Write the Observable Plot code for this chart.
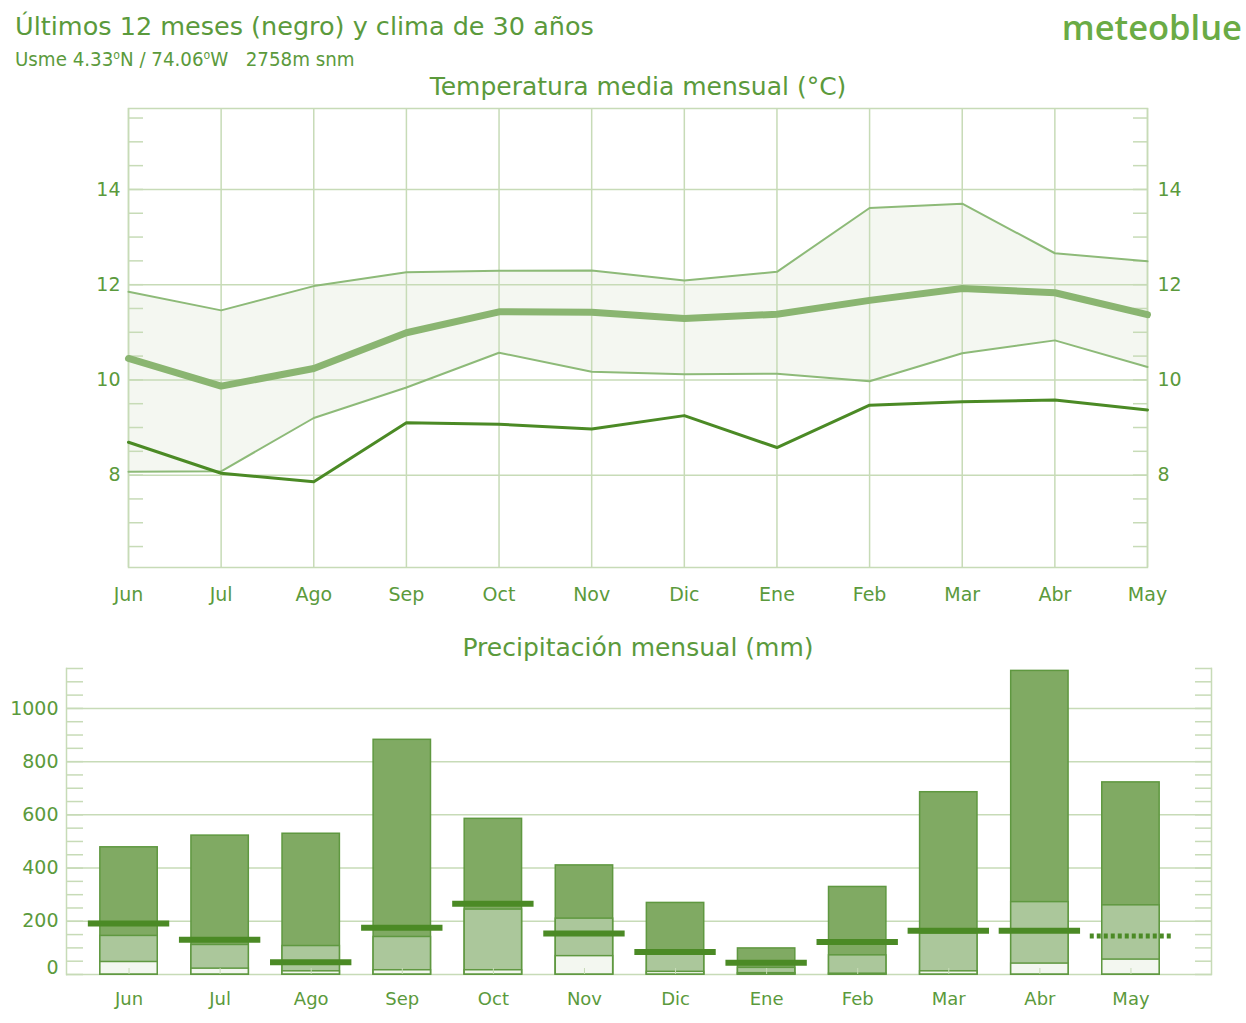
<!DOCTYPE html>
<html>
<head>
<meta charset="utf-8">
<script src="https://cdn.jsdelivr.net/npm/d3@7"></script>
<script src="https://cdn.jsdelivr.net/npm/@observablehq/plot@0.6"></script>
<style>
  html, body { margin: 0; padding: 0; background: #ffffff; }
  #root { position: relative; width: 1246px; height: 1023px; overflow: hidden; font-family: "DejaVu Sans", sans-serif; color: #5b9a3c; }
  .t { position: absolute; white-space: nowrap; line-height: 1; }
  .plotbox { position: absolute; left: 0; }
  sup { font-size: 0.6em; vertical-align: 0; position: relative; top: -0.55em; }
</style>
</head>
<body>
<div id="root">
  <div class="t" id="title" style="left:15px; font-size:25.5px;">Últimos 12 meses (negro) y clima de 30 años</div>
  <div class="t" id="sub" style="left:15px; font-size:20.3px; font-family:'DejaVu Sans Condensed','DejaVu Sans',sans-serif; font-stretch:condensed;">Usme 4.33<sup>o</sup>N / 74.06<sup>o</sup>W &nbsp;&nbsp;2758m snm</div>
  <div class="t" id="logo" style="right:4px; font-size:34.5px; font-family:'Open Sans',sans-serif; font-weight:600; color:#6aab45;">meteoblue</div>
  <div class="t" id="ttitle" style="left:0; width:1276px; text-align:center; font-size:25px;">Temperatura media mensual (°C)</div>
  <div class="t" id="ptitle" style="left:0; width:1276px; text-align:center; font-size:25px;">Precipitación mensual (mm)</div>
  <div class="plotbox" id="tplot" style="top:100px;"></div>
  <div class="plotbox" id="pplot" style="top:660px;"></div>
</div>
<script>
// ---------- data ----------
const months = ["Jun","Jul","Ago","Sep","Oct","Nov","Dic","Ene","Feb","Mar","Abr","May"];

// Temperatura media mensual (°C)
const tempMax  = [11.85, 11.46, 11.97, 12.26, 12.29, 12.30, 12.09, 12.27, 13.61, 13.70, 12.66, 12.49];
const tempMean = [10.45,  9.87, 10.24, 10.99, 11.43, 11.42, 11.29, 11.38, 11.67, 11.92, 11.83, 11.37];
const tempMin  = [ 8.07,  8.08,  9.20,  9.84, 10.57, 10.17, 10.12, 10.13,  9.97, 10.56, 10.83, 10.27];
const tempLast = [ 8.69,  8.04,  7.86,  9.10,  9.07,  8.97,  9.25,  8.58,  9.47,  9.54,  9.58,  9.37];
const tempMajor = [8, 10, 12, 14];
const tempMinor = [6.5, 7, 7.5, 8, 8.5, 9, 9.5, 10, 10.5, 11, 11.5, 12, 12.5, 13, 13.5, 14, 14.5, 15, 15.5];
const tempDomain = [6.06, 15.7];

// Precipitación mensual (mm)
const precMax  = [478, 522, 529, 882, 585, 410, 269,  98, 329, 685, 1141, 722];
const precMid  = [145, 111, 107, 141, 244, 210,  79,  25,  72, 154,  272, 260];
const precLow  = [ 47,  22,  12,  16,  16,  69,  10,   5,   3,  12,   41,  56];
const precLast = [192, 131,  46, 176, 266, 154,  85,  44, 122, 164,  164, 145];
const precMajor = [0, 200, 400, 600, 800, 1000];
const precMinor = d3.range(0, 1151, 50);
const precDomain = [0, 1150];

// ---------- colours ----------
const textC = "#5b9a3c";
const gridC = "#c7dbb7";
const bandC = "#f4f7f1";
const climC = "#8dba78";
const meanC = "#8ab571";
const lastC = "#4b8a25";
const darkBar = "#80aa63";
const lightBar = "#abc79b";
const whiteBar = "#f3f7f0";
const barStroke = "#5f9840";

// ---------- text placement (baselines) ----------
function place(id, baseline, size, k) {
  document.getElementById(id).style.top = (baseline - k * size) + "px";
}
place("title", 36, 25.5, 0.846);
place("sub", 66, 20.3, 0.846);
place("logo", 41, 34.5, 0.888);
place("ttitle", 95, 25, 0.846);
place("ptitle", 656, 25, 0.846);

const style = {fontFamily: "DejaVu Sans, sans-serif", fontSize: "19px", color: textC, background: "none", overflow: "visible"};

// ---------- temperature ----------
const tdata = months.map((m, i) => ({m, max: tempMax[i], mean: tempMean[i], min: tempMin[i], last: tempLast[i]}));
const tPlot = Plot.plot({
  width: 1246, height: 520,
  marginLeft: 128, marginRight: 99, marginTop: 8, marginBottom: 53,
  style,
  x: {type: "point", domain: months, padding: 0, round: false},
  y: {domain: tempDomain},
  marks: [
    Plot.areaY(tdata, {x: "m", y1: "min", y2: "max", fill: bandC}),
    Plot.gridX(months, {stroke: gridC, strokeOpacity: 1, strokeWidth: 1.5}),
    Plot.gridY(tempMajor, {stroke: gridC, strokeOpacity: 1, strokeWidth: 1.5}),
    Plot.frame({stroke: gridC, strokeWidth: 1.5}),
    Plot.axisY(tempMinor, {anchor: "left", tickSize: -15, fill: "none", stroke: gridC, strokeWidth: 1.5, label: null}),
    Plot.axisY(tempMinor, {anchor: "right", tickSize: -15, fill: "none", stroke: gridC, strokeWidth: 1.5, label: null}),
    Plot.axisY(tempMajor, {anchor: "left", tickSize: 0, tickPadding: 8, label: null}),
    Plot.axisY(tempMajor, {anchor: "right", tickSize: 0, tickPadding: 10, label: null}),
    Plot.axisX(months, {anchor: "bottom", tickSize: 0, tickPadding: 20, label: null}),
    Plot.lineY(tdata, {x: "m", y: "max", stroke: climC, strokeWidth: 2}),
    Plot.lineY(tdata, {x: "m", y: "min", stroke: climC, strokeWidth: 2}),
    Plot.lineY(tdata, {x: "m", y: "mean", stroke: meanC, strokeWidth: 7}),
    Plot.lineY(tdata, {x: "m", y: "last", stroke: lastC, strokeWidth: 3})
  ]
});
document.getElementById("tplot").appendChild(tPlot);

// ---------- precipitation ----------
const pdata = months.map((m, i) => ({m, max: precMax[i], mid: precMid[i], low: precLow[i], last: precLast[i]}));
const lastMonth = months[months.length - 1];
const pPlot = Plot.plot({
  width: 1246, height: 363,
  marginLeft: 66, marginRight: 35, marginTop: 8, marginBottom: 49,
  style,
  x: {type: "band", domain: months, paddingInner: 0.37, paddingOuter: 0.185, insetLeft: 17, insetRight: 35, round: false},
  y: {domain: precDomain},
  marks: [
    Plot.gridY(precMajor, {stroke: gridC, strokeOpacity: 1, strokeWidth: 1.5}),
    Plot.frame({anchor: "left", stroke: gridC, strokeWidth: 1.5}),
    Plot.frame({anchor: "right", stroke: gridC, strokeWidth: 1.5}),
    Plot.axisY(precMinor, {anchor: "left", tickSize: -17, fill: "none", stroke: gridC, strokeWidth: 1.5, label: null}),
    Plot.axisY(precMinor, {anchor: "right", tickSize: -17, fill: "none", stroke: gridC, strokeWidth: 1.5, label: null}),
    Plot.axisY(precMajor.filter(d => d > 0), {anchor: "left", tickSize: 0, tickPadding: 8, tickFormat: d => String(d), label: null}),
    Plot.axisY(precMajor.filter(d => d === 0), {anchor: "left", tickSize: 0, tickPadding: 8, dy: -7, tickFormat: d => String(d), label: null}),
    Plot.barY(pdata, {x: "m", y: "max", fill: darkBar, stroke: barStroke, strokeWidth: 1.5}),
    Plot.barY(pdata, {x: "m", y: "mid", fill: lightBar, stroke: barStroke, strokeWidth: 1.5}),
    Plot.barY(pdata, {x: "m", y: "low", fill: whiteBar, stroke: barStroke, strokeWidth: 1.5}),
    Plot.axisX(months, {anchor: "bottom", tickSize: -6, fill: "none", stroke: gridC, strokeWidth: 1, label: null}),
    Plot.tickY(pdata.filter(d => d.m !== lastMonth), {x: "m", y: "last", stroke: lastC, strokeWidth: 6, insetLeft: -12, insetRight: -12}),
    Plot.tickY(pdata.filter(d => d.m === lastMonth), {x: "m", y: "last", stroke: lastC, strokeWidth: 5, strokeDasharray: "4,3", insetLeft: -12, insetRight: -12}),
    Plot.axisX(months, {anchor: "bottom", tickSize: 0, tickPadding: 18, fontSize: 18, label: null})
  ]
});
document.getElementById("pplot").appendChild(pPlot);
</script>
</body>
</html>
